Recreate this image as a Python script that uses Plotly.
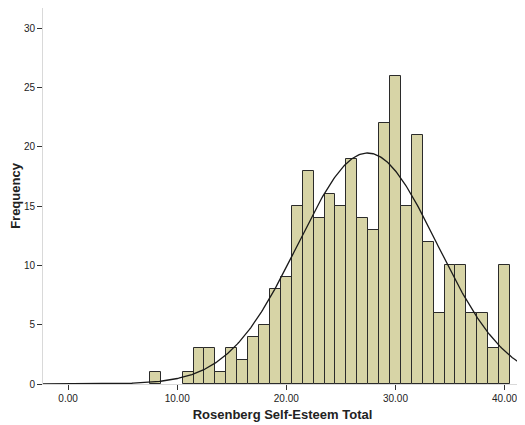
import numpy as np
import plotly.graph_objects as go

scores = [8, 11, 12, 13, 14, 15, 16, 17, 18, 19, 20, 21, 22, 23, 24, 25, 26, 27, 28,
          29, 30, 31, 32, 33, 34, 35, 36, 37, 38, 39, 40]
counts = [1, 1, 3, 3, 1, 3, 2, 4, 5, 8, 9, 15, 18, 14, 16, 15, 19, 14, 13,
          22, 26, 15, 21, 12, 6, 10, 10, 6, 6, 3, 10]
x_ticks = [0, 10, 20, 30, 40]
x_tick_labels = ["0.00", "10.00", "20.00", "30.00", "40.00"]
y_ticks = [0, 5, 10, 15, 20, 25, 30]

s = np.array(scores, float)
c = np.array(counts, float)
n = c.sum()
mean = (s * c).sum() / n
sd = np.sqrt(((s - mean) ** 2 * c).sum() / (n - 1))
xc = np.linspace(-2.3, 41.6, 400)
yc = n * 1.0 / (sd * np.sqrt(2 * np.pi)) * np.exp(-0.5 * ((xc - mean) / sd) ** 2)

fig = go.Figure()
fig.add_trace(go.Bar(x=scores, y=counts, width=1,
                     marker=dict(color="#D7D4A6", line=dict(color="#2b2b2b", width=1)),
                     showlegend=False))
fig.add_trace(go.Scatter(x=xc, y=yc, mode="lines",
                         line=dict(color="#1a1a1a", width=1.3), showlegend=False))

# page body has an 8px default margin, so the figure is sized/offset to compensate
fig.update_layout(
    width=517, height=417,
    margin=dict(l=35, r=3, t=0, b=41),
    paper_bgcolor="white", plot_bgcolor="white",
    font=dict(family="Liberation Sans, Arial, sans-serif", color="#222"),
    bargap=0,
)
fig.update_xaxes(range=[-2.3, 41.6], tickvals=x_ticks, ticktext=x_tick_labels,
                 showgrid=False, zeroline=False, showline=True, linecolor="#d9d9d9",
                 linewidth=1, ticks="outside", ticklen=5, tickcolor="#333",
                 tickfont=dict(size=10),
                 title=dict(text="<b>Rosenberg Self-Esteem Total</b>", font=dict(size=13), standoff=6))
fig.update_yaxes(range=[0, 31.7], tickvals=y_ticks, showgrid=False, zeroline=False,
                 showline=True, linecolor="#d9d9d9", linewidth=1, ticks="outside",
                 ticklen=5, tickcolor="#333", tickfont=dict(size=10),
                 title=dict(text="<b>Frequency</b>", font=dict(size=13), standoff=6))

fig.write_html("out.html")
